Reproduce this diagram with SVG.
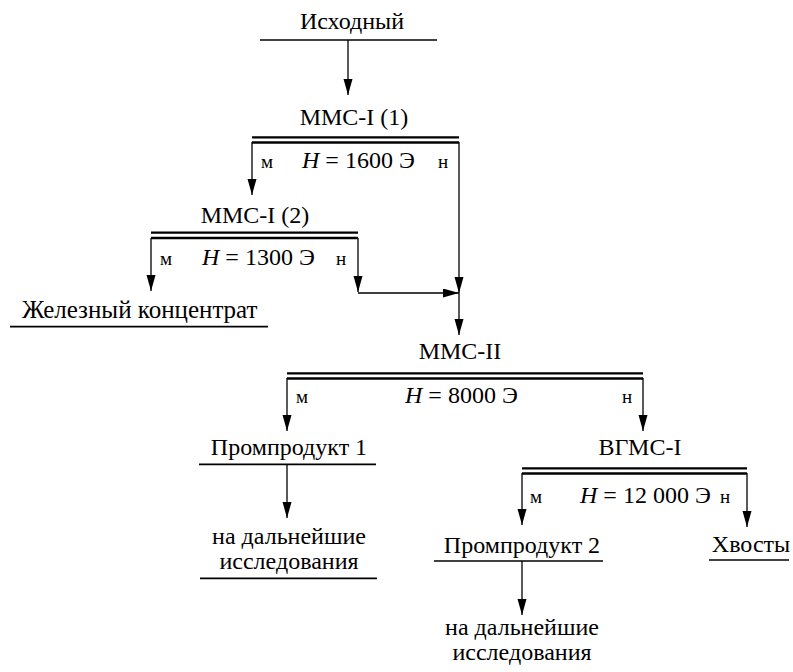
<svg xmlns="http://www.w3.org/2000/svg" width="793" height="672" viewBox="0 0 793 672">
<style>
text{fill:#000;font-family:"Liberation Serif","Times New Roman",serif}
.t{font-size:24px}
.c{text-anchor:middle}
.s{font-size:19px}
.i{font-style:italic}
.u{stroke:#000;stroke-width:1.7;fill:none}
.d{stroke:#000;stroke-width:2.3;fill:none}
.a{stroke:#000;stroke-width:1.3;fill:none;marker-end:url(#ah)}
</style>
<defs>
<marker id="ah" markerUnits="userSpaceOnUse" markerWidth="16" markerHeight="10" refX="16" refY="4.5" orient="auto">
<path d="M0,0 L16,4.5 L0,9 z" fill="#000"/>
</marker>
</defs>
<rect width="793" height="672" fill="#fff"/>

<g id="n-source">
<text class="t c" x="352" y="29">Исходный</text>
<line class="u" x1="260" y1="40" x2="437" y2="40"/>
</g>

<g id="n-mms1-1">
<text class="t c" x="354" y="125">ММС-I (1)</text>
<line class="d" x1="252" y1="137.3" x2="459" y2="137.3"/>
<line class="d" x1="252" y1="142.5" x2="459" y2="142.5"/>
<text class="s" x="261" y="168">м</text>
<text class="t" x="302" y="168"><tspan class="i">H</tspan> = 1600 Э</text>
<text class="s" x="438" y="168">н</text>
</g>

<g id="n-mms1-2">
<text class="t c" x="255" y="223">ММС-I (2)</text>
<line class="d" x1="151" y1="232.7" x2="358" y2="232.7"/>
<line class="d" x1="151" y1="238" x2="358" y2="238"/>
<text class="s" x="160" y="265">м</text>
<text class="t" x="202" y="265"><tspan class="i">H</tspan> = 1300 Э</text>
<text class="s" x="336" y="265">н</text>
</g>

<g id="n-iron">
<text class="t" x="22" y="318" style="font-size:25px">Железный концентрат</text>
<line class="u" x1="10" y1="326.7" x2="268" y2="326.7"/>
</g>

<g id="n-mms2">
<text class="t c" x="460" y="359">ММС-II</text>
<line class="d" x1="287" y1="373.3" x2="643" y2="373.3"/>
<line class="d" x1="287" y1="378.5" x2="643" y2="378.5"/>
<text class="s" x="296" y="403">м</text>
<text class="t" x="405" y="403"><tspan class="i">H</tspan> = 8000 Э</text>
<text class="s" x="622" y="403">н</text>
</g>

<g id="n-pp1">
<text class="t c" x="289" y="455">Промпродукт 1</text>
<line class="u" x1="199" y1="464.3" x2="376" y2="464.3"/>
</g>

<g id="n-further1">
<text class="t c" x="289" y="544">на дальнейшие<tspan x="289" dy="25">исследования</tspan></text>
<line class="u" x1="200" y1="578.3" x2="377" y2="578.3"/>
</g>

<g id="n-vgms">
<text class="t c" x="640" y="455">ВГМС-I</text>
<line class="d" x1="522" y1="468.3" x2="747" y2="468.3"/>
<line class="d" x1="522" y1="473.5" x2="747" y2="473.5"/>
<text class="s" x="530" y="503">м</text>
<text class="t" x="580" y="503"><tspan class="i">H</tspan> = 12 000 Э</text>
<text class="s" x="720" y="503">н</text>
</g>

<g id="n-pp2">
<text class="t c" x="522" y="553">Промпродукт 2</text>
<line class="u" x1="434" y1="561" x2="603" y2="561"/>
</g>

<g id="n-tails">
<text class="t c" x="751" y="552">Хвосты</text>
<line class="u" x1="709" y1="560" x2="789" y2="560"/>
</g>

<g id="n-further2">
<text class="t c" x="522" y="635">на дальнейшие<tspan x="522" dy="25">исследования</tspan></text>
</g>

<g id="connectors">
<line class="a" x1="348" y1="40" x2="348" y2="95"/>
<line class="a" x1="252" y1="142" x2="252" y2="195"/>
<line class="a" x1="459" y1="142" x2="459" y2="293"/>
<line class="a" x1="151" y1="238" x2="151" y2="291"/>
<line class="a" x1="358" y1="238" x2="358" y2="292"/>
<line class="a" x1="358" y1="293" x2="459" y2="293"/>
<line class="a" x1="459" y1="293" x2="459" y2="335"/>
<line class="a" x1="287" y1="378" x2="287" y2="431"/>
<line class="a" x1="643" y1="378" x2="643" y2="431"/>
<line class="a" x1="287" y1="464" x2="287" y2="518"/>
<line class="a" x1="522" y1="473" x2="522" y2="525"/>
<line class="a" x1="747" y1="473" x2="747" y2="527"/>
<line class="a" x1="522" y1="561" x2="522" y2="615"/>
</g>
</svg>
